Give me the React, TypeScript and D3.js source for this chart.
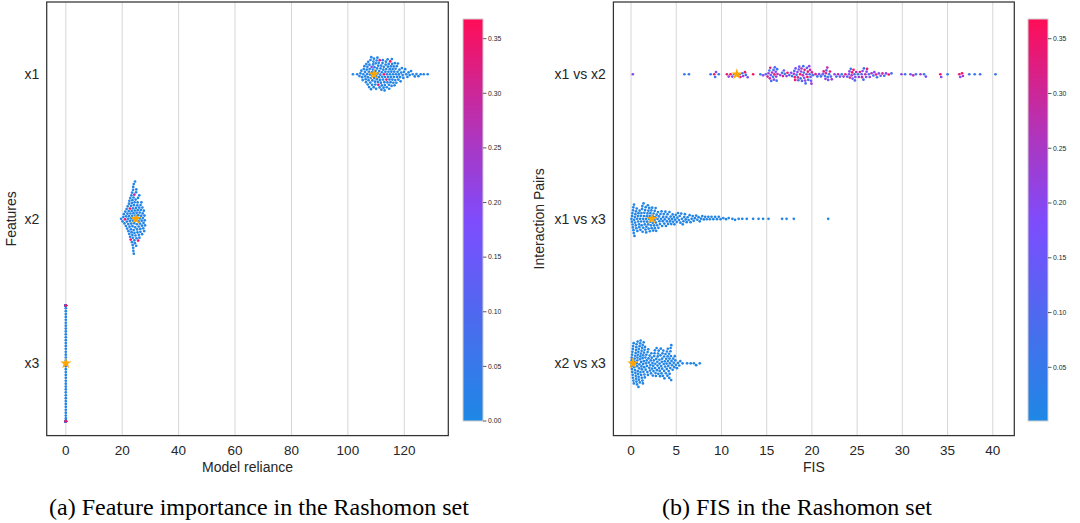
import React, { useMemo } from 'react';
import * as d3 from 'd3';

// ---------------- DATA ----------------
const featureNames = ['x1', 'x2', 'x3'];
const pairNames = ['x1 vs x2', 'x1 vs x3', 'x2 vs x3'];

// Model reliance of each model in the Rashomon set
const relianceX1 = [
  101.8, 103.3,
  104.1, 104.45, 104.8,
  105.05, 105.25, 105.45, 105.65, 105.85,
  106.05, 106.15, 106.3, 106.42, 106.55, 106.68, 106.8, 106.92,
  107.02, 107.12, 107.22, 107.33, 107.42, 107.52, 107.63, 107.72, 107.82, 107.93,
  108.02, 108.12, 108.21, 108.3, 108.4, 108.49, 108.58, 108.68, 108.77, 108.87, 108.96,
  109.05, 109.15, 109.24, 109.34, 109.43, 109.52, 109.62, 109.71, 109.81, 109.9,
  110.0, 110.09, 110.18, 110.28, 110.37, 110.47, 110.56, 110.65, 110.75, 110.8, 110.94,
  111.03, 111.12, 111.22, 111.3, 111.41, 111.5, 111.59, 111.69, 111.78, 111.88,
  112.0, 112.09, 112.18, 112.28, 112.37, 112.46, 112.56, 112.65, 112.74, 112.8, 112.93,
  113.02, 113.11, 113.21, 113.3, 113.4, 113.49, 113.58, 113.7, 113.77, 113.86,
  114.0, 114.09, 114.18, 114.28, 114.37, 114.47, 114.56, 114.65, 114.75, 114.84, 114.93,
  115.0, 115.12, 115.21, 115.31, 115.4, 115.5, 115.59, 115.68, 115.78, 115.88,
  116.02, 116.13, 116.24, 116.35, 116.46, 116.57, 116.68, 116.79, 116.9,
  117.05, 117.19, 117.33, 117.47, 117.61, 117.75, 117.89,
  118.1, 118.3, 118.5, 118.7, 118.9,
  119.15, 119.4, 119.65, 119.9,
  120.3, 120.7, 121.1, 121.5, 121.9,
  122.4, 123.0, 123.7, 124.3, 125.0, 125.8, 126.9, 128.3,
];
const relianceX2 = [
  19.6, 20.1, 20.4,
  20.6, 20.8, 21.0, 21.1, 21.3, 21.4,
  21.55, 21.65, 21.75, 21.85, 21.95, 22.05, 22.15, 22.2, 22.3, 22.4, 22.45,
  22.5, 22.55, 22.6, 22.7, 22.75, 22.8, 22.85, 22.9, 23.0, 23.05, 23.1, 23.15, 23.2, 23.25, 23.3, 23.35, 23.4,
  23.45,
  23.5, 23.55, 23.6, 23.6, 23.65, 23.7, 23.75, 23.8, 23.8, 23.85, 23.9, 23.9, 23.95, 24.0, 24.0, 24.05, 24.1,
  24.1, 24.15, 24.2,
  24.25, 24.3, 24.3, 24.35, 24.4, 24.45, 24.5,
  24.55, 24.6, 24.65, 24.7, 24.75, 24.8, 24.85, 24.9, 24.95, 25.0, 25.05, 25.1, 25.2, 25.25, 25.3, 25.35, 25.4,
  25.45, 25.5,
  25.6, 25.65, 25.7, 25.8, 25.85, 25.9, 26.0, 26.05, 26.1, 26.2, 26.25, 26.3, 26.4, 26.45, 26.5,
  26.6, 26.7, 26.8, 26.9, 27.0, 27.05, 27.15, 27.25, 27.35, 27.45,
  27.55, 27.65, 27.8, 27.9, 28.0, 28.1,
];
const relianceX3 = [
  0, 0, 0, 0, 0, 0, 0, 0, 0, 0, 0, 0, 0, 0, 0, 0, 0, 0, 0, 0,
  0, 0, 0, 0, 0, 0, 0, 0, 0, 0, 0, 0, 0, 0, 0, 0, 0, 0, 0, 0,
  0, 0, 0, 0, 0, 0, 0, 0, 0, 0, 0, 0, 0, 0, 0, 0, 0, 0, 0, 0,
  0, 0, 0, 0, 0, 0, 0, 0, 0, 0, 0, 0, 0, 0, 0, 0, 0, 0, 0, 0,
  0, 0, 0, 0, 0, 0, 0, 0, 0, 0, 0, 0, 0, 0, 0, 0, 0, 0, 0, 0,
  0, 0, 0, 0, 0, 0, 0, 0, 0, 0, 0, 0, 0, 0, 0, 0, 0, 0, 0, 0,
];
// [value, loss] for the models whose colour differs from the base colour
const relianceX1Loss: [number, number][] = [[110.8, 0.34], [112.8, 0.35], [113.7, 0.33], [115.0, 0.36], [111.3, 0.3], [108.4, 0.2]];
const relianceX2Loss: [number, number][] = [[23.0, 0.35], [21.0, 0.33], [22.75, 0.36], [25.65, 0.34], [24.3, 0.3]];
const relianceX3Loss: [number, number][] = [[0, 0.35], [0, 0.33], [0, 0.3], [0, 0.36]];
const relianceBaseLoss = 0.01;
const relianceReference = [109.2, 24.8, 0];

// Feature interaction scores (FIS)
const fisX1X2 = [
  0.2,
  5.9, 6.4,
  8.8, 9.2, 9.3, 9.4, 9.7,
  10.6, 10.8, 11.0, 11.2, 11.4,
  12.0, 12.1, 12.3, 12.4, 12.6, 12.7, 12.9,
  13.5,
  14.3, 14.6, 14.9, 15.1,
  15.2, 15.3, 15.4, 15.45, 15.5, 15.6, 15.7, 15.8, 15.85, 15.9, 16.0, 16.1, 16.2,
  16.5, 16.7, 16.8, 16.9, 17.0, 17.2, 17.3, 17.5, 17.7, 17.8,
  18.0, 18.05, 18.1, 18.2, 18.3, 18.4, 18.45, 18.5, 18.6, 18.7, 18.75, 18.8, 18.9, 19.0,
  19.1, 19.15, 19.2, 19.3, 19.4, 19.45, 19.5, 19.6, 19.7, 19.8, 19.85, 19.9, 20.0, 20.1,
  20.4, 20.6, 20.8, 21.0,
  21.2, 21.3, 21.45, 21.5, 21.6, 21.7, 21.8, 21.9, 22.0, 22.1, 22.2,
  22.5, 22.7, 22.9, 23.1, 23.3, 23.5, 23.7, 23.9,
  24.1, 24.2, 24.3, 24.4, 24.5, 24.6, 24.7, 24.8, 24.9,
  25.1, 25.2, 25.3, 25.5, 25.6, 25.7, 25.9, 26.0, 26.1, 26.3, 26.4,
  26.6, 26.8, 26.9, 27.1, 27.2, 27.4,
  27.6, 27.8, 28.0, 28.2, 28.5, 28.8,
  29.9, 30.3, 30.9, 31.2, 31.5, 32.0, 32.4, 32.6,
  34.2, 34.3, 35.0,
  36.3, 36.4, 36.6, 36.7,
  37.4, 38.0, 38.6,
  40.3,
  15.35, 15.75, 16.05, 16.15, 18.15, 18.55, 18.85, 19.05, 19.25, 19.55,
  19.75, 19.95, 21.55, 21.75, 24.15, 24.45, 24.75, 25.55, 25.75, 26.05,
];
const fisX1X2Loss = [
  0.2,
  0.04, 0.06,
  0.05, 0.33, 0.08, 0.2, 0.05,
  0.34, 0.22, 0.35, 0.18, 0.06,
  0.1, 0.3, 0.05, 0.22, 0.35, 0.08, 0.19,
  0.36,
  0.05, 0.2, 0.12, 0.3,
  0.22, 0.05, 0.32, 0.15, 0.08, 0.26, 0.04, 0.2, 0.34, 0.1, 0.18, 0.06, 0.28,
  0.2, 0.06, 0.3, 0.15, 0.04, 0.24, 0.35, 0.1, 0.18, 0.05,
  0.25, 0.08, 0.33, 0.18, 0.05, 0.21, 0.3, 0.1, 0.16, 0.35, 0.06, 0.22, 0.12, 0.28,
  0.04, 0.19, 0.32, 0.09, 0.24, 0.14, 0.36, 0.05, 0.2, 0.27, 0.11, 0.17, 0.31, 0.07,
  0.3, 0.08, 0.2, 0.05,
  0.15, 0.34, 0.06, 0.22, 0.1, 0.29, 0.18, 0.05, 0.33, 0.12, 0.24,
  0.2, 0.08, 0.28, 0.15, 0.05, 0.22, 0.32, 0.1,
  0.18, 0.3, 0.06, 0.24, 0.14, 0.35, 0.09, 0.2, 0.27,
  0.05, 0.22, 0.31, 0.12, 0.19, 0.06, 0.28, 0.16, 0.34, 0.08, 0.21,
  0.25, 0.1, 0.18, 0.32, 0.06, 0.2,
  0.14, 0.3, 0.05, 0.22, 0.35, 0.09,
  0.2, 0.06, 0.15, 0.28, 0.1, 0.22, 0.05, 0.18,
  0.35, 0.2, 0.05,
  0.33, 0.18, 0.36, 0.25,
  0.06, 0.05, 0.08,
  0.06,
  0.3, 0.1, 0.22, 0.05, 0.35, 0.12, 0.27, 0.06, 0.2, 0.33,
  0.08, 0.24, 0.3, 0.06, 0.2, 0.35, 0.1, 0.28, 0.05, 0.18,
];
const fisX1X3 = [
  0.05, 0.1, 0.12, 0.15, 0.17, 0.2, 0.22, 0.25, 0.27, 0.3, 0.33, 0.35, 0.38, 0.42, 0.45, 0.48, 0.52, 0.55, 0.58, 0.63,
  0.67, 0.7, 0.76, 0.79, 0.82, 0.88, 0.91, 0.95,
  1.0, 1.04, 1.08, 1.12, 1.15, 1.18, 1.22, 1.25, 1.28, 1.33, 1.35, 1.38, 1.42, 1.45, 1.47, 1.52, 1.56, 1.6, 1.62,
  1.65, 1.68, 1.7, 1.74, 1.78, 1.82, 1.86, 1.9, 1.92, 1.94, 1.98,
  2.02, 2.06, 2.08, 2.1, 2.14, 2.2, 2.25, 2.28, 2.3, 2.34, 2.38, 2.4, 2.45, 2.5, 2.55, 2.6, 2.62, 2.64, 2.68, 2.72,
  2.75, 2.78, 2.83, 2.88, 2.93, 2.98,
  3.03, 3.08, 3.14, 3.2, 3.26, 3.32, 3.38, 3.44, 3.5, 3.56, 3.62, 3.68, 3.74, 3.8, 3.86, 3.92, 3.97,
  4.04, 4.1, 4.18, 4.25, 4.32, 4.38, 4.45, 4.52, 4.6, 4.66, 4.74, 4.8, 4.88, 4.95,
  5.05, 5.12, 5.2, 5.3, 5.38, 5.46, 5.55, 5.63, 5.72, 5.8, 5.88, 5.96,
  6.05, 6.15, 6.26, 6.37, 6.48, 6.58, 6.7, 6.82, 6.93,
  7.06, 7.2, 7.33, 7.47, 7.6, 7.74, 7.88,
  8.05, 8.2, 8.38, 8.55, 8.72, 8.9,
  9.1, 9.3, 9.5, 9.7, 9.9,
  10.2, 10.5, 10.8,
  11.2, 11.5, 11.9,
  12.3, 12.8,
  13.5, 14.1, 14.6, 15.2, 16.7, 17.2, 18.0, 21.8,
];
const fisX2X3 = [
  0.02, 0.05, 0.07, 0.08, 0.1, 0.12, 0.14, 0.15, 0.18, 0.2, 0.21, 0.23, 0.26, 0.29, 0.31, 0.32, 0.36, 0.38, 0.4,
  0.44, 0.46, 0.48,
  0.51, 0.53, 0.55, 0.56, 0.58, 0.6, 0.61, 0.63, 0.66, 0.68, 0.69, 0.71, 0.73, 0.74, 0.76, 0.79, 0.81, 0.82, 0.84,
  0.86, 0.87, 0.9, 0.93, 0.95, 0.97, 0.98,
  1.01, 1.03, 1.04, 1.06, 1.09, 1.11, 1.12, 1.15, 1.17, 1.19, 1.2, 1.23, 1.26, 1.28, 1.29, 1.31, 1.33, 1.34, 1.37,
  1.4, 1.42, 1.43, 1.46, 1.48, 1.5,
  1.52, 1.55, 1.59, 1.62, 1.66, 1.69, 1.73, 1.76, 1.8, 1.83, 1.87, 1.9, 1.94, 1.97,
  2.02, 2.06, 2.1, 2.14, 2.18, 2.21, 2.25, 2.29, 2.33, 2.37, 2.41, 2.45, 2.48,
  2.52, 2.56, 2.6, 2.64, 2.66, 2.68, 2.71, 2.75, 2.79, 2.83, 2.87, 2.91, 2.93, 2.95, 2.98,
  3.02, 3.06, 3.1, 3.14, 3.16, 3.18, 3.21, 3.25, 3.29, 3.33, 3.37, 3.41, 3.44, 3.45, 3.48,
  3.53, 3.57, 3.61, 3.65, 3.66, 3.69, 3.73, 3.77, 3.81, 3.85, 3.89, 3.93, 3.95, 3.97,
  4.02, 4.05, 4.07, 4.09, 4.12, 4.16, 4.2, 4.23, 4.25, 4.27, 4.3, 4.34, 4.36, 4.38, 4.41, 4.44, 4.45, 4.48,
  4.54, 4.6, 4.66, 4.72, 4.78, 4.84, 4.9, 4.96,
  5.08, 5.2, 5.33, 5.45,
  5.7, 6.2, 6.6, 6.95, 7.2, 7.6,
];
const fisBaseLoss = 0.01;
const fisReference = [11.7, 2.3, 0.2];

const relianceTicks = [0, 20, 40, 60, 80, 100, 120];
const fisTicks = [0, 5, 10, 15, 20, 25, 30, 35, 40];
const relianceColorTicks = [0, 0.05, 0.1, 0.15, 0.2, 0.25, 0.3, 0.35];
const fisColorTicks = [0.05, 0.1, 0.15, 0.2, 0.25, 0.3, 0.35];
const relianceLossRange = [0, 0.368];
const fisLossRange = [0.001, 0.368];

// ---------------- STYLE / LAYOUT ----------------
const W = 1080;
const H = 523;
const SANS = "'Liberation Sans', Arial, Helvetica, sans-serif";
const SERIF = "'Liberation Serif', 'Times New Roman', Times, serif";
const TEXT = '#262626';
const AX_TOP = 2;
const AX_BOTTOM = 435.6;
const CB_TOP = 19;
const CB_BOTTOM = 421;
const DOT_R = 1.35;
const DOT_D = 2.9;

const colour = d3
  .scaleLinear<string>()
  .domain([0, 0.09, 0.18, 0.27, 0.368])
  .range(['#1E88E5', '#4A6CEE', '#7C4DFF', '#B532B5', '#FF0D57'])
  .interpolate(d3.interpolateRgb)
  .clamp(true);

function expandLoss(values: number[], base: number, marks: [number, number][]): number[] {
  const out = values.map(() => base);
  const used = values.map(() => false);
  for (const [v, l] of marks) {
    for (let j = values.length - 1; j >= 0; j--) {
      if (!used[j] && Math.abs(values[j] - v) < 1e-9) {
        out[j] = l;
        used[j] = true;
        break;
      }
    }
  }
  return out;
}

type Dot = { x: number; y: number; c: string };

function beeswarm(values: number[], losses: number[], xs: (v: number) => number, cy: number, maxHalf: number): Dot[] {
  const d = DOT_D;
  const items = values.map((v, i) => ({ i, px: xs(v), off: 0 }));
  const order = items.slice().sort((a, b) => a.px - b.px || a.i - b.i);
  const placed: typeof items = [];
  for (const it of order) {
    const neigh: typeof items = [];
    for (let k = placed.length - 1; k >= 0; k--) {
      const p = placed[k];
      if (it.px - p.px >= d) break;
      neigh.push(p);
    }
    const cands = [0];
    for (const n of neigh) {
      const dx = it.px - n.px;
      const dy = Math.sqrt(Math.max(0, d * d - dx * dx));
      cands.push(n.off + dy, n.off - dy);
    }
    cands.sort((a, b) => Math.abs(a) - Math.abs(b) || b - a);
    let chosen = cands[cands.length - 1];
    for (const c of cands) {
      let ok = true;
      for (const n of neigh) {
        const dx = it.px - n.px;
        const dy = c - n.off;
        if (dx * dx + dy * dy < d * d - 1e-6) {
          ok = false;
          break;
        }
      }
      if (ok) {
        chosen = c;
        break;
      }
    }
    it.off = chosen;
    placed.push(it);
  }
  return items.map((it) => ({
    x: it.px,
    y: cy + Math.max(-maxHalf, Math.min(maxHalf, it.off)),
    c: colour(losses[it.i] ?? 0.01),
  }));
}

type PanelProps = {
  id: string;
  categories: string[];
  series: number[][];
  losses: number[][];
  refs: number[];
  xDomain: [number, number];
  axX0: number;
  axX1: number;
  ticks: number[];
  xLabel: string;
  yLabel: string;
  yLabelX: number;
  cbX: number;
  cbDomain: number[];
  cbTicks: number[];
  caption: string;
  captionX: number;
};

function Panel(p: PanelProps) {
  const x = d3.scaleLinear().domain(p.xDomain).range([p.axX0, p.axX1]);
  const y = d3.scalePoint<string>().domain(p.categories).range([AX_TOP, AX_BOTTOM]).padding(0.5);
  const step = y.step();
  const dots = useMemo(
    () => p.series.map((vals, k) => beeswarm(vals, p.losses[k], x, y(p.categories[k]) as number, step * 0.4)),
    // eslint-disable-next-line react-hooks/exhaustive-deps
    []
  );
  const cbY = d3.scaleLinear().domain([p.cbDomain[0], p.cbDomain[1]]).range([CB_BOTTOM, CB_TOP]);
  const gradStops = d3.range(0, 1.0001, 0.05).map((t) => {
    const v = p.cbDomain[0] + t * (p.cbDomain[1] - p.cbDomain[0]);
    return { off: t, c: colour(v) };
  });
  const star = d3.symbol().type(d3.symbolStar).size(40)() as string;
  const gid = `grad-${p.id}`;
  return (
    <g>
      <defs>
        <linearGradient id={gid} x1="0" y1="1" x2="0" y2="0">
          {gradStops.map((s, i) => (
            <stop key={i} offset={s.off} stopColor={s.c} />
          ))}
        </linearGradient>
      </defs>
      {/* grid */}
      {p.ticks.map((t) => (
        <line key={t} x1={x(t)} x2={x(t)} y1={AX_TOP} y2={AX_BOTTOM} stroke="#d6d6d6" strokeWidth={1} />
      ))}
      {/* swarms */}
      {dots.map((ds, k) => (
        <g key={k}>
          {ds.map((dd, i) => (
            <circle key={i} cx={dd.x} cy={dd.y} r={DOT_R} fill={dd.c} />
          ))}
        </g>
      ))}
      {/* reference model stars */}
      {p.refs.map((v, k) => (
        <path key={k} d={star} transform={`translate(${x(v)},${y(p.categories[k])})`} fill="#FFA500" />
      ))}
      {/* frame */}
      <rect x={p.axX0} y={AX_TOP} width={p.axX1 - p.axX0} height={AX_BOTTOM - AX_TOP} fill="none" stroke="#333" strokeWidth={1.25} />
      {/* x tick labels */}
      {p.ticks.map((t) => (
        <text key={t} x={x(t)} y={455} textAnchor="middle" fontFamily={SANS} fontSize={13.5} fill={TEXT}>
          {t}
        </text>
      ))}
      <text x={(p.axX0 + p.axX1) / 2} y={471.5} textAnchor="middle" fontFamily={SANS} fontSize={14} fill={TEXT}>
        {p.xLabel}
      </text>
      {/* y tick labels */}
      {p.categories.map((c) => (
        <text key={c} x={p.axX0 - 7.5} y={(y(c) as number) + 5} textAnchor="end" fontFamily={SANS} fontSize={14} fill={TEXT}>
          {c}
        </text>
      ))}
      <text
        transform={`translate(${p.yLabelX},${(AX_TOP + AX_BOTTOM) / 2}) rotate(-90)`}
        textAnchor="middle"
        fontFamily={SANS}
        fontSize={14}
        fill={TEXT}
      >
        {p.yLabel}
      </text>
      {/* colorbar */}
      <rect x={p.cbX} y={CB_TOP} width={20} height={CB_BOTTOM - CB_TOP} fill={`url(#${gid})`} stroke="#cfcfcf" strokeWidth={1} />
      {p.cbTicks.map((t) => (
        <g key={t}>
          <line x1={p.cbX + 20} x2={p.cbX + 23.5} y1={cbY(t)} y2={cbY(t)} stroke="#333" strokeWidth={0.8} />
          <text x={p.cbX + 25} y={cbY(t) + 2.3} fontFamily={SANS} fontSize={6.8} fill={TEXT}>
            {t.toFixed(2)}
          </text>
        </g>
      ))}
      {/* caption */}
      <text x={p.captionX} y={515} textAnchor="middle" fontFamily={SERIF} fontSize={24} fill="#000">
        {p.caption}
      </text>
    </g>
  );
}

export default function App() {
  const relianceSeries = [relianceX1, relianceX2, relianceX3];
  const relianceLosses = [
    expandLoss(relianceX1, relianceBaseLoss, relianceX1Loss),
    expandLoss(relianceX2, relianceBaseLoss, relianceX2Loss),
    expandLoss(relianceX3, relianceBaseLoss, relianceX3Loss),
  ];
  const fisSeries = [fisX1X2, fisX1X3, fisX2X3];
  const fisLosses = [fisX1X2Loss, expandLoss(fisX1X3, fisBaseLoss, []), expandLoss(fisX2X3, fisBaseLoss, [])];
  return (
    <svg width={W} height={H} style={{ position: 'absolute', left: 0, top: 0, background: '#fff' }}>
      <rect width={W} height={H} fill="#fff" />
      <Panel
        id="a"
        categories={featureNames}
        series={relianceSeries}
        losses={relianceLosses}
        refs={relianceReference}
        xDomain={[-6.77, 135.6]}
        axX0={46.7}
        axX1={448.3}
        ticks={relianceTicks}
        xLabel="Model reliance"
        yLabel="Features"
        yLabelX={16}
        cbX={463}
        cbDomain={relianceLossRange}
        cbTicks={relianceColorTicks}
        caption="(a) Feature importance in the Rashomon set"
        captionX={259}
      />
      <Panel
        id="b"
        categories={pairNames}
        series={fisSeries}
        losses={fisLosses}
        refs={fisReference}
        xDomain={[-1.95, 42.38]}
        axX0={613.4}
        axX1={1014.3}
        ticks={fisTicks}
        xLabel="FIS"
        yLabel="Interaction Pairs"
        yLabelX={544}
        cbX={1028}
        cbDomain={fisLossRange}
        cbTicks={fisColorTicks}
        caption="(b) FIS in the Rashomon set"
        captionX={797}
      />
    </svg>
  );
}
